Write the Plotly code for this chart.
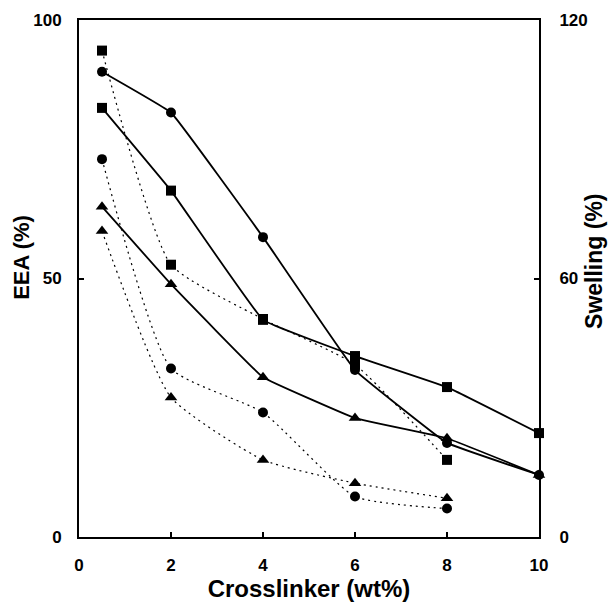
import plotly.graph_objects as go

# Crosslinker content (wt%)
x_solid = [0.5, 2, 4, 6, 8, 10]
x_dotted = [0.5, 2, 4, 6, 8]

# EEA (%) - solid lines, left axis
eea_circle = [90.0, 82.1, 58.0, 32.3, 18.2, 12.0]
eea_square = [83.0, 67.0, 42.0, 35.0, 29.0, 20.1]
eea_triangle = [63.9, 48.9, 30.9, 23.0, 19.1, 12.0]

# Swelling (%) - dotted lines, right axis
sw_square = [112.9, 63.2, 50.6, 40.0, 17.9]
sw_circle = [87.7, 39.1, 28.9, 9.4, 6.6]
sw_triangle = [71.0, 32.4, 17.9, 12.5, 9.0]

x_ticks = [0, 2, 4, 6, 8, 10]
y_left_ticks = [0, 50, 100]
y_right_ticks = [0, 60, 120]

FONT = "Liberation Sans, Arial, sans-serif"

fig = go.Figure()

def add(xv, yv, symbol, dotted, axis):
    line = dict(color="black", width=1.2 if dotted else 1.8,
                dash="2px,4px" if dotted else "solid",
                shape="spline", smoothing=0.5 if dotted else 0.2)
    size = {"circle": 10, "square": 10, "triangle-up": 11}[symbol]
    fig.add_trace(go.Scatter(
        x=xv, y=yv, mode="lines+markers", yaxis=axis,
        line=line,
        marker=dict(symbol=symbol, size=size, color="black",
                    line=dict(width=0)),
        cliponaxis=False, showlegend=False))

add(x_dotted, sw_square, "square", True, "y2")
add(x_dotted, sw_circle, "circle", True, "y2")
add(x_dotted, sw_triangle, "triangle-up", True, "y2")
add(x_solid, eea_circle, "circle", False, "y")
add(x_solid, eea_square, "square", False, "y")
add(x_solid, eea_triangle, "triangle-up", False, "y")

tickfont = dict(family=FONT, size=17, color="black", weight="bold")

fig.update_layout(
    width=610, height=605,
    margin=dict(l=79, r=71, t=20, b=68),
    paper_bgcolor="white", plot_bgcolor="white",
    xaxis=dict(range=[0, 10], tickvals=x_ticks, ticks="inside", ticklen=5,
               tickwidth=1.5, tickcolor="black", automargin=False,
               showline=True, linecolor="black", linewidth=2, mirror=True,
               showgrid=False, zeroline=False, tickfont=tickfont,
               ticklabelstandoff=12,
               title=dict(text="Crosslinker (wt%)",
                          font=dict(family=FONT, size=24, color="black", weight="bold"),
                          standoff=4)),
    yaxis=dict(range=[0, 100], tickvals=y_left_ticks, ticks="inside", ticklen=5,
               tickwidth=1.5, tickcolor="black", automargin=False,
               showline=True, linecolor="black", linewidth=2,
               showgrid=False, zeroline=False, tickfont=tickfont,
               ticklabelstandoff=12),
    yaxis2=dict(range=[0, 120], tickvals=y_right_ticks, ticks="inside", ticklen=5,
                tickwidth=1.5, tickcolor="black", overlaying="y", side="right",
                automargin=False,
                showline=True, linecolor="black", linewidth=2,
                showgrid=False, zeroline=False, tickfont=tickfont,
                ticklabelstandoff=15),
    annotations=[
        dict(text="EEA (%)", xref="paper", yref="paper", x=0, y=0.54,
             xshift=-57, textangle=-90, showarrow=False,
             xanchor="center", yanchor="middle",
             font=dict(family=FONT, size=22, color="black", weight="bold")),
        dict(text="Swelling (%)", xref="paper", yref="paper", x=1, y=0.532,
             xshift=55, textangle=-90, showarrow=False,
             xanchor="center", yanchor="middle",
             font=dict(family=FONT, size=23, color="black", weight="bold")),
    ],
)

fig.write_html("out.html")
